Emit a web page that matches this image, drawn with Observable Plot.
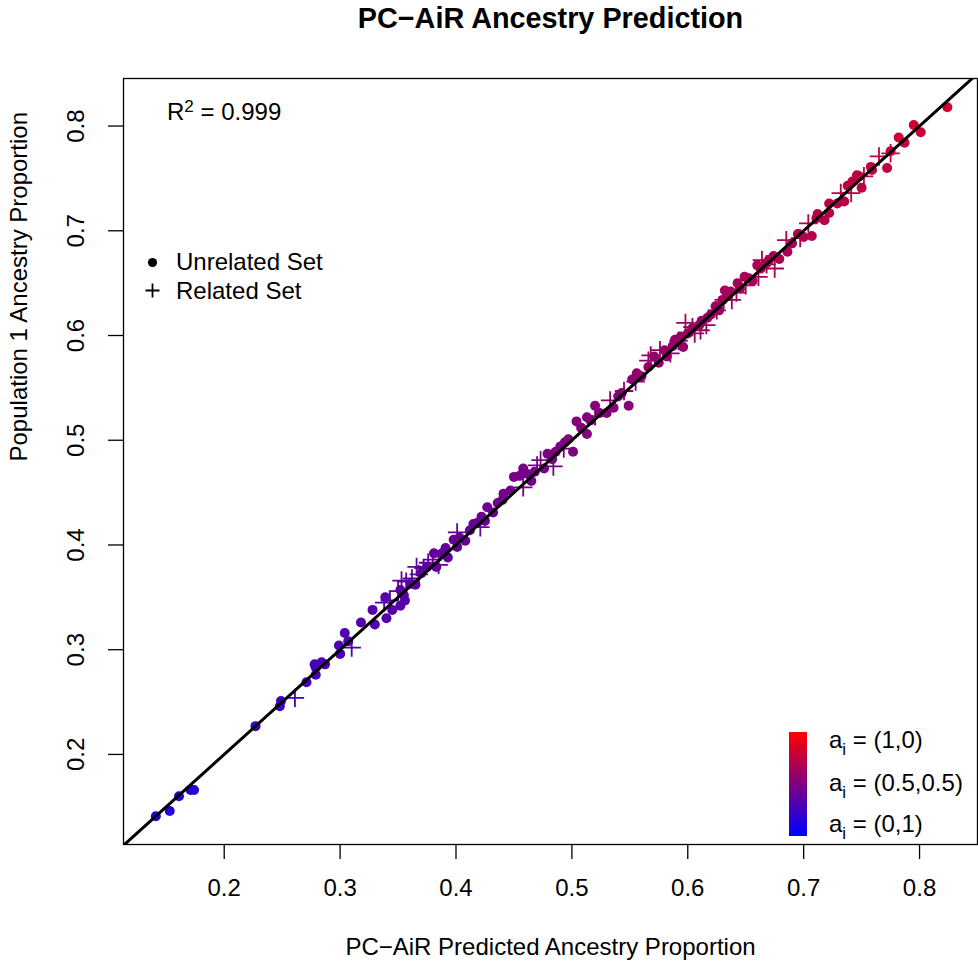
<!DOCTYPE html>
<html><head><meta charset="utf-8">
<script src="https://cdn.jsdelivr.net/npm/d3@7"></script>
<script src="https://cdn.jsdelivr.net/npm/@observablehq/plot@0.6"></script>
<style>html,body{margin:0;padding:0;background:#fff;overflow:hidden;} svg{display:block;}</style>
</head><body><div id="chart"></div>
<script>
// Unrelated set (filled dots): predicted (x) vs true population-1 ancestry (y)
const unrelX = [0.141,0.153,0.161,0.171,0.174,0.227,0.248,0.249,0.271,0.279,0.279,0.284,0.287,0.278,0.300,0.299,0.304,0.307,0.318,0.328,0.330,0.340,0.339,0.352,0.356,
  0.352,0.361,0.375,0.381,0.391,0.398,0.401,0.415,0.422,0.427,0.441,0.440,0.450,0.458,0.461,0.476,0.479,0.490,0.494,0.501,0.504,0.513,0.513,0.520,0.530,0.543,0.549,0.556,0.566,
  0.824,0.795,0.801,0.782,0.787,0.775,0.772,0.758,0.759,0.746,0.742,0.750,0.735,0.722,0.729,0.722,0.711,0.718,0.707,0.700,0.686,0.679,0.668,0.663,0.649,0.643,0.632,0.634,0.624,0.627,0.617,0.610,0.594,0.596,0.589,0.582,0.571,
  0.345,0.355,0.365,0.370,0.383,0.388,0.393,0.403,0.408,0.412,0.418,0.425,0.432,0.436,0.447,0.455,0.465,0.468,0.483,0.486,0.497,0.508,0.516,0.524,0.536,0.540,0.552,0.560,0.575,0.580,0.587,0.600,0.604,0.612,0.620,0.630,0.637,0.645,0.652,0.656,0.660,0.670,0.674,0.690,0.695,0.712,0.738,0.748];
const unrelY = [0.141,0.146,0.160,0.166,0.166,0.227,0.246,0.251,0.269,0.276,0.283,0.288,0.286,0.286,0.296,0.304,0.316,0.308,0.326,0.338,0.324,0.330,0.350,0.342,0.347,
  0.357,0.363,0.379,0.392,0.397,0.405,0.398,0.420,0.427,0.436,0.449,0.443,0.465,0.473,0.468,0.473,0.487,0.494,0.498,0.489,0.518,0.522,0.506,0.533,0.526,0.545,0.533,0.564,0.570,
  0.818,0.801,0.794,0.789,0.784,0.776,0.760,0.761,0.758,0.753,0.747,0.741,0.728,0.726,0.726,0.717,0.712,0.710,0.695,0.694,0.680,0.673,0.669,0.664,0.656,0.650,0.643,0.640,0.628,0.624,0.617,0.610,0.599,0.589,0.596,0.580,0.580,
  0.338,0.352,0.362,0.373,0.379,0.392,0.388,0.407,0.404,0.414,0.421,0.423,0.431,0.440,0.452,0.466,0.461,0.470,0.482,0.489,0.501,0.512,0.519,0.526,0.531,0.542,0.558,0.561,0.574,0.586,0.590,0.602,0.607,0.614,0.620,0.634,0.642,0.645,0.655,0.652,0.667,0.672,0.676,0.688,0.697,0.716,0.743,0.752];
// Related set (plus signs)
const relX = [0.261,0.310,0.338,0.353,0.366,0.401,0.421,0.458,0.473,0.484,0.533,0.566,0.765,0.775,0.741,0.732,0.685,0.697,0.664,0.675,0.661,0.631,0.638,0.598,0.611,0.568,0.576,0.604,
  0.343,0.350,0.357,0.362,0.368,0.372,0.376,0.380,0.385,0.470,0.493,0.520,0.545,0.555,0.585,0.592,0.606,0.616,0.625,0.642,0.650,0.668,0.704,0.752];
const relY = [0.254,0.302,0.345,0.366,0.379,0.412,0.417,0.455,0.481,0.475,0.538,0.576,0.771,0.774,0.736,0.736,0.691,0.693,0.672,0.664,0.656,0.634,0.634,0.612,0.605,0.581,0.586,0.608,
  0.347,0.356,0.365,0.368,0.372,0.378,0.383,0.386,0.381,0.476,0.492,0.523,0.547,0.556,0.583,0.595,0.602,0.610,0.624,0.641,0.648,0.668,0.707,0.752];

const tickValues = [0.2, 0.3, 0.4, 0.5, 0.6, 0.7, 0.8];
const tickLabels = ["0.2", "0.3", "0.4", "0.5", "0.6", "0.7", "0.8"];
const identityLine = [0, 1];
const titleText = "PC\u2212AiR Ancestry Prediction";
const xTitle = "PC\u2212AiR Predicted Ancestry Proportion";
const yTitle = "Population 1 Ancestry Proportion";
const legendSymbols = ["Unrelated Set", "Related Set"];
const colorLabels = ["(1,0)", "(0.5,0.5)", "(0,1)"];

const unrelated = unrelX.map((x, i) => ({x, y: unrelY[i]}));
const related = relX.map((x, i) => ({x, y: relY[i]}));
const ticks = tickValues.map((v, i) => ({v, label: tickLabels[i]}));

const FONT = "'Liberation Sans', Arial, Helvetica, sans-serif";

const chart = Plot.plot({
  width: 978, height: 963,
  marginTop: 78, marginLeft: 123, marginRight: 1, marginBottom: 119,
  style: {fontFamily: FONT, background: "#fff", color: "#000"},
  x: {domain: [0.1131, 0.8500]},
  y: {domain: [0.1140, 0.8454]},
  color: {type: "linear", domain: [0, 1], range: ["#0000ff", "#ff0000"], interpolate: "rgb"},
  marks: [
    Plot.dot(unrelated, {x: "x", y: "y", r: 5, fill: "y", stroke: null}),
    Plot.dot(related, {x: "x", y: "y", symbol: "plus", r: 6, stroke: "y", strokeWidth: 1.8}),
    Plot.line(identityLine, {x: d => d, y: d => d, stroke: "#000", strokeWidth: 3, clip: true}),
    Plot.frame({stroke: "#000", strokeWidth: 1.3}),
    Plot.axisX({ticks: tickValues, tickSize: 15, tickPadding: 19, tickFormat: (d, i) => tickLabels[i], fontSize: 24, label: null, stroke: "#000", strokeWidth: 1.3}),
    Plot.axisY({ticks: tickValues, tickSize: 15, tickFormat: () => "", label: null, stroke: "#000", strokeWidth: 1.3}),
    Plot.text(ticks, {y: "v", text: "label", frameAnchor: "left", dx: -47, rotate: -90, fontSize: 24, lineAnchor: "middle", textAnchor: "middle", fill: "#000"}),
    Plot.text([titleText], {frameAnchor: "top", dy: -60, fontSize: 28.8, fontWeight: "bold", lineAnchor: "middle", fill: "#000"}),
    Plot.text([xTitle], {frameAnchor: "bottom", dy: 102.5, fontSize: 24, lineAnchor: "middle", fill: "#000"}),
    Plot.text([yTitle], {frameAnchor: "left", dx: -104, rotate: -90, fontSize: 24, lineAnchor: "middle", fill: "#000"})
  ]
});

document.getElementById("chart").appendChild(chart);

// Annotations (R-squared, symbol legend, colour legend)
const svg = d3.select(chart);
const g = svg.append("g").attr("font-family", FONT).attr("fill", "#000").attr("text-anchor", "start");

const r2 = g.append("text").attr("x", 167).attr("y", 120).attr("font-size", 24).attr("text-anchor", "start");
r2.append("tspan").text("R");
r2.append("tspan").attr("dy", -8.5).attr("font-size", 17).text("2");
r2.append("tspan").attr("dy", 8.5).text(" = 0.999");

g.append("circle").attr("cx", 152.5).attr("cy", 262.5).attr("r", 4.6).attr("fill", "#000");
g.append("path").attr("d", "M145.5,290.5h14M152.5,283.5v14").attr("stroke", "#000").attr("stroke-width", 1.8).attr("fill", "none");
g.append("text").attr("x", 176).attr("y", 270).attr("font-size", 24).attr("text-anchor", "start").text(legendSymbols[0]);
g.append("text").attr("x", 176).attr("y", 299).attr("font-size", 24).attr("text-anchor", "start").text(legendSymbols[1]);

const defs = svg.append("defs");
const grad = defs.append("linearGradient").attr("id", "ancGrad").attr("x1", 0).attr("y1", 0).attr("x2", 0).attr("y2", 1);
grad.append("stop").attr("offset", "0%").attr("stop-color", "#ff0000");
grad.append("stop").attr("offset", "100%").attr("stop-color", "#0000ff");
g.append("rect").attr("x", 789).attr("y", 732).attr("width", 18).attr("height", 104).attr("fill", "url(#ancGrad)");

const labelYs = [747.5, 790.5, 831.5];
colorLabels.forEach((lab, i) => {
  const t = g.append("text").attr("x", 829).attr("y", labelYs[i]).attr("font-size", 24).attr("text-anchor", "start");
  t.append("tspan").text("a");
  t.append("tspan").attr("dy", 7).attr("font-size", 17).text("i");
  t.append("tspan").attr("dy", -7).text(" = " + lab);
});
</script>
</body></html>
